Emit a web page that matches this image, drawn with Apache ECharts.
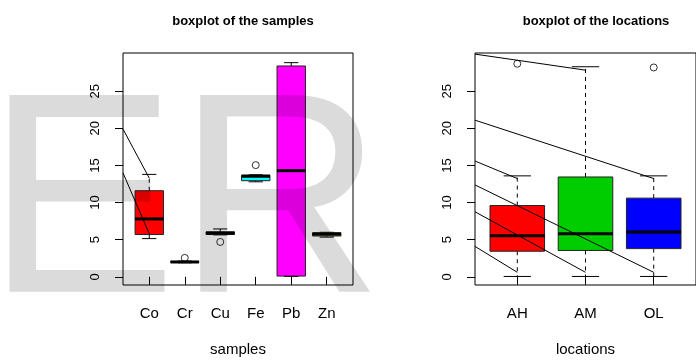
<!DOCTYPE html>
<html>
<head>
<meta charset="UTF-8">
<title>boxplots</title>
<script src="https://cdn.jsdelivr.net/npm/echarts@6/dist/echarts.min.js"></script>
<style>
  html, body { margin: 0; padding: 0; background: #fff; }
  #main { width: 696px; height: 362px; }
</style>
</head>
<body>
<div id="main"></div>
<script>
// left panel: elements
var elements = ['Co', 'Cr', 'Cu', 'Fe', 'Pb', 'Zn'];
// [min, q1, median, q3, max]
var sampleStats = [
  [5.15, 5.7, 7.8, 11.6, 13.8],
  [1.9, 1.95, 2.0, 2.08, 2.12],
  [5.65, 5.7, 5.9, 6.05, 6.45],
  [12.8, 12.95, 13.55, 13.7, 13.75],
  [0.05, 0.1, 14.3, 28.4, 28.85],
  [5.35, 5.5, 5.75, 5.95, 6.0]
];
var sampleOutliers = [[2, 2.55], [3, 4.7], [4, 15.05]];

// right panel: locations
var locations = ['AH', 'AM', 'OL'];
var locationStats = [
  [0.05, 3.45, 5.55, 9.6, 13.6],
  [0.05, 3.55, 5.8, 13.45, 28.3],
  [0.05, 3.8, 6.05, 10.6, 13.6]
];
var locationOutliers = [[1, 28.7], [3, 28.2]];

var yTicks = [0, 5, 10, 15, 20, 25];

// stray segments that show in the source picture
var leftStray = [
  [[0.26, 19.9], [1, 13.3]],
  [[0.26, 14.0], [1, 5.8]]
];
var rightStray = [
  [[0.38, 30.0], [2, 27.84]],
  [[0.38, 21.1], [3, 13.24]],
  [[0.38, 15.6], [1, 13.24]],
  [[0.38, 12.38], [3, 0.61]],
  [[0.38, 8.76], [2, 0.61]],
  [[0.38, 4.1], [1, 0.61]]
];

var sampleColors = ['#FF0000', '#00CD00', '#0000FF', '#00FFFF', '#FF00FF', '#FFFF00'];
var locationColors = ['#FF0000', '#00CD00', '#0000FF'];

var FONT = '"Liberation Sans", Arial, sans-serif';

function boxData(stats) {
  return stats.map(function (s, i) { return [i + 1].concat(s); });
}

function makeRender(colors) {
  return function (params, api) {
    var x = api.value(0);
    var lo = api.coord([x, api.value(1)]);
    var q1 = api.coord([x, api.value(2)]);
    var md = api.coord([x, api.value(3)]);
    var q3 = api.coord([x, api.value(4)]);
    var hi = api.coord([x, api.value(5)]);
    var w = api.size([0.8, 0])[0];
    var cx = lo[0];
    var cap = w / 4;
    var dash = { stroke: '#000', lineWidth: 1, lineDash: [4, 4] };
    var solid = { stroke: '#000', lineWidth: 1 };
    return {
      type: 'group',
      children: [
        { type: 'line', shape: { x1: cx, y1: q3[1], x2: cx, y2: hi[1] }, style: dash },
        { type: 'line', shape: { x1: cx, y1: q1[1], x2: cx, y2: lo[1] }, style: dash },
        { type: 'line', shape: { x1: cx - cap, y1: hi[1], x2: cx + cap, y2: hi[1] }, style: solid },
        { type: 'line', shape: { x1: cx - cap, y1: lo[1], x2: cx + cap, y2: lo[1] }, style: solid },
        { type: 'rect', shape: { x: cx - w / 2, y: q3[1], width: w, height: q1[1] - q3[1] },
          style: { fill: colors[params.dataIndex], stroke: '#222', lineWidth: 1 } },
        { type: 'line', shape: { x1: cx - w / 2, y1: md[1], x2: cx + w / 2, y2: md[1] },
          style: { stroke: '#000', lineWidth: 3 } }
      ]
    };
  };
}

function straySeries(list, idx) {
  return list.map(function (seg) {
    return {
      type: 'line', xAxisIndex: idx, yAxisIndex: idx, data: seg,
      symbol: 'none', silent: true, animation: false,
      lineStyle: { color: '#000', width: 1 }, z: 5
    };
  });
}

function xAxisFor(idx, names, min, max, title) {
  var vals = names.map(function (n, i) { return i + 1; });
  return {
    gridIndex: idx, type: 'value', min: min, max: max,
    name: title, nameLocation: 'middle', nameGap: 57,
    nameTextStyle: { fontFamily: FONT, fontSize: 15, color: '#000' },
    axisLine: { show: false },
    splitLine: { show: false },
    axisTick: { show: true, customValues: vals, length: 8, lineStyle: { color: '#000' } },
    axisLabel: {
      customValues: vals, margin: 21, fontFamily: FONT, fontSize: 15, color: '#000',
      formatter: function (v) { return names[Math.round(v) - 1]; }
    }
  };
}

function yAxisFor(idx) {
  return {
    gridIndex: idx, type: 'value', min: -1.1, max: 30.15,
    axisLine: { show: false },
    splitLine: { show: false },
    axisTick: { show: true, customValues: yTicks, length: 8, lineStyle: { color: '#000' } },
    axisLabel: { customValues: yTicks, rotate: 90, margin: 21, fontFamily: FONT, fontSize: 13, color: '#000' }
  };
}

var chart = echarts.init(document.getElementById('main'), null, { renderer: 'canvas' });

var option = {
  animation: false,
  backgroundColor: '#fff',
  title: [
    { text: 'boxplot of the samples', left: 238, top: 10, textAlign: 'center',
      textStyle: { fontFamily: FONT, fontSize: 13, fontWeight: 'bold', color: '#000' } },
    { text: 'boxplot of the locations', left: 591, top: 10, textAlign: 'center',
      textStyle: { fontFamily: FONT, fontSize: 13, fontWeight: 'bold', color: '#000' } }
  ],
  grid: [
    { left: 123, top: 53, width: 230, height: 239, show: true, borderColor: '#000', borderWidth: 1 },
    { left: 475, top: 53, width: 232, height: 239, show: true, borderColor: '#000', borderWidth: 1 }
  ],
  xAxis: [
    xAxisFor(0, elements, 0.26, 6.74, 'samples'),
    xAxisFor(1, locations, 0.38, 3.62, 'locations')
  ],
  yAxis: [yAxisFor(0), yAxisFor(1)],
  series: [
    {
      type: 'custom', xAxisIndex: 0, yAxisIndex: 0,
      renderItem: makeRender(sampleColors),
      encode: { x: 0, y: [1, 2, 3, 4, 5] },
      data: boxData(sampleStats)
    },
    {
      type: 'custom', xAxisIndex: 1, yAxisIndex: 1,
      renderItem: makeRender(locationColors),
      encode: { x: 0, y: [1, 2, 3, 4, 5] },
      data: boxData(locationStats)
    },
    {
      type: 'scatter', xAxisIndex: 0, yAxisIndex: 0, data: sampleOutliers,
      symbol: 'circle', symbolSize: 7,
      itemStyle: { color: 'rgba(255,255,255,0)', borderColor: '#000', borderWidth: 1 }
    },
    {
      type: 'scatter', xAxisIndex: 1, yAxisIndex: 1, data: locationOutliers,
      symbol: 'circle', symbolSize: 7,
      itemStyle: { color: 'rgba(255,255,255,0)', borderColor: '#000', borderWidth: 1 }
    }
  ].concat(straySeries(leftStray, 0), straySeries(rightStray, 1)),
  graphic: [
    {
      type: 'text', left: -14, top: 70, z: 100, silent: true,
      style: { text: 'ER', font: '286px "Liberation Sans", Arial, sans-serif', fill: 'rgba(0,0,0,0.14)' }
    }
  ]
};

chart.setOption(option);
</script>
</body>
</html>
